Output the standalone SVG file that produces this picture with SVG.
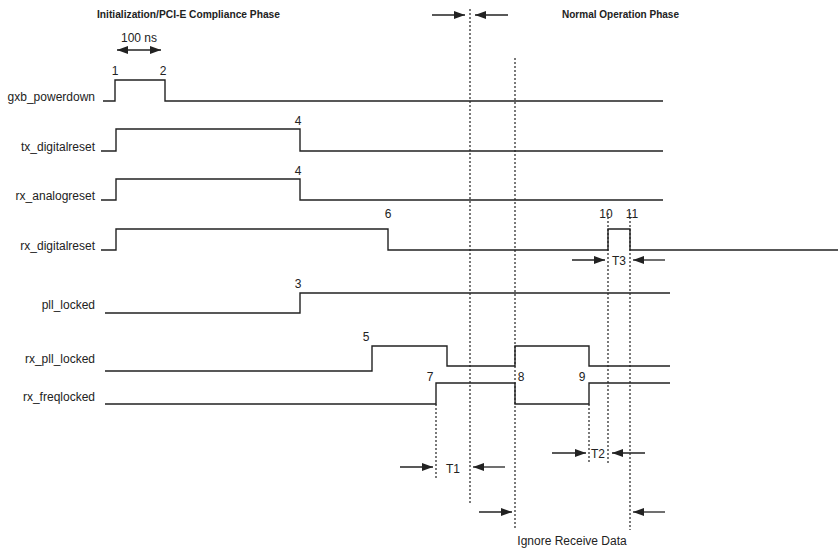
<svg xmlns="http://www.w3.org/2000/svg" width="838" height="548" viewBox="0 0 838 548">
<style>
.bg{fill:#fff}
.sig{fill:none;stroke:#222;stroke-width:1.4}
.dot{fill:none;stroke:#222;stroke-width:1.2;stroke-dasharray:2,2}
.arr{fill:none;stroke:#222;stroke-width:1.3}
.lbl{font-family:"Liberation Sans",Arial,sans-serif;font-size:12px;fill:#222}
.num{font-family:"Liberation Sans",Arial,sans-serif;font-size:12px;fill:#222;text-anchor:middle}
.hdr{font-family:"Liberation Sans",Arial,sans-serif;font-size:11px;font-weight:bold;fill:#222}
</style>
<defs>
<marker id="ah" viewBox="0 0 11 8" refX="11" refY="4" markerWidth="11" markerHeight="8" markerUnits="userSpaceOnUse" orient="auto-start-reverse">
<path d="M0,0 L11,4 L0,8 Z" fill="#222"/>
</marker>
</defs>
<rect class="bg" x="0" y="0" width="838" height="548"/>

<g id="headers">
<text class="hdr" x="97" y="18" textLength="183" lengthAdjust="spacingAndGlyphs">Initialization/PCI-E Compliance Phase</text>
<text class="hdr" x="562" y="18" textLength="117" lengthAdjust="spacingAndGlyphs">Normal Operation Phase</text>
</g>

<g id="gxb_powerdown">
<text class="lbl" x="95" y="101" text-anchor="end">gxb_powerdown</text>
<path class="sig" d="M103,101 H115 V80 H165 V101 H663"/>
<text class="num" x="115" y="75">1</text>
<text class="num" x="163" y="75">2</text>
</g>

<g id="tx_digitalreset">
<text class="lbl" x="95" y="151" text-anchor="end">tx_digitalreset</text>
<path class="sig" d="M101,151 H116 V129 H300 V151 H663"/>
<text class="num" x="298" y="125">4</text>
</g>

<g id="rx_analogreset">
<text class="lbl" x="95" y="200" text-anchor="end">rx_analogreset</text>
<path class="sig" d="M101,200 H116 V179 H300 V200 H663"/>
<text class="num" x="298" y="175">4</text>
</g>

<g id="rx_digitalreset">
<text class="lbl" x="95" y="250" text-anchor="end">rx_digitalreset</text>
<path class="sig" d="M101,250 H116 V229 H388 V250 H608 V229 H630 V250 H838"/>
<text class="num" x="388" y="218">6</text>
<text class="num" x="606" y="218">10</text>
<text class="num" x="632" y="218">11</text>
</g>

<g id="pll_locked">
<text class="lbl" x="95" y="309" text-anchor="end">pll_locked</text>
<path class="sig" d="M105,313 H300 V293 H670"/>
<text class="num" x="298" y="288">3</text>
</g>

<g id="rx_pll_locked">
<text class="lbl" x="95" y="363" text-anchor="end">rx_pll_locked</text>
<path class="sig" d="M105,371 H372 V346 H447 V366 H515 V346 H589 V366 H670"/>
<text class="num" x="366" y="341">5</text>
</g>

<g id="rx_freqlocked">
<text class="lbl" x="95" y="401" text-anchor="end">rx_freqlocked</text>
<path class="sig" d="M105,404 H436 V383 H515 V404 H589 V383 H670"/>
<text class="num" x="430" y="381">7</text>
<text class="num" x="521" y="381">8</text>
<text class="num" x="582" y="381">9</text>
</g>

<g id="connectors">
<line class="dot" x1="470" y1="9" x2="470" y2="503"/>
<line class="dot" x1="515" y1="58" x2="515" y2="530"/>
<line class="dot" x1="436" y1="404" x2="436" y2="480"/>
<line class="dot" x1="589" y1="404" x2="589" y2="463"/>
<line class="dot" x1="608" y1="213" x2="608" y2="463"/>
<line class="dot" x1="630" y1="213" x2="630" y2="530"/>

<line class="arr" x1="117" y1="50" x2="161" y2="50" marker-start="url(#ah)" marker-end="url(#ah)"/>

<line class="arr" x1="432" y1="15" x2="465" y2="15" marker-end="url(#ah)"/>
<line class="arr" x1="508" y1="15" x2="475" y2="15" marker-end="url(#ah)"/>

<line class="arr" x1="572" y1="260" x2="605" y2="260" marker-end="url(#ah)"/>
<line class="arr" x1="665" y1="260" x2="633" y2="260" marker-end="url(#ah)"/>

<line class="arr" x1="400" y1="467" x2="433" y2="467" marker-end="url(#ah)"/>
<line class="arr" x1="505" y1="467" x2="473" y2="467" marker-end="url(#ah)"/>

<line class="arr" x1="552" y1="453" x2="586" y2="453" marker-end="url(#ah)"/>
<line class="arr" x1="645" y1="453" x2="612" y2="453" marker-end="url(#ah)"/>

<line class="arr" x1="479" y1="512" x2="512" y2="512" marker-end="url(#ah)"/>
<line class="arr" x1="665" y1="512" x2="633" y2="512" marker-end="url(#ah)"/>
</g>

<g id="labels">
<text class="num" x="139" y="42">100 ns</text>
<text class="num" x="619" y="265">T3</text>
<text class="num" x="453" y="473">T1</text>
<text class="num" x="598" y="458">T2</text>
<text class="num" x="572" y="545">Ignore Receive Data</text>
</g>
</svg>
